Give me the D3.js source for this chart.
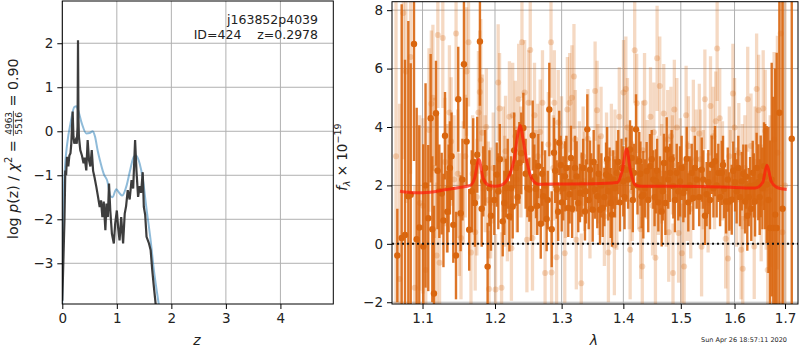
<!DOCTYPE html>
<html lang="en">
<head>
<meta charset="UTF-8">
<title>redshift fit</title>
<script src="https://cdn.jsdelivr.net/npm/d3@7"></script>
<style>
body { margin: 0; background: #fff; }
svg text { font-family: "DejaVu Sans", sans-serif; }
</style>
</head>
<body>
<div id="output"></div>
<script>

// p(z) panel
var zTicks = [0, 1, 2, 3, 4];
var logpTicks = [-3, -2, -1, 0, 1, 2];
// [z, log p(z)] of the fit (dark) and the smoothed prior/template curve (blue)
var pzFit = [[0.0,-3.85],[0.02,-2.93],[0.04,-2.0],[0.055,-0.89],[0.07,-1.0],[0.086,-0.58],[0.11,-0.8],[0.13,-0.55],
  [0.15,-0.5],[0.165,-0.28],[0.19,0.45],[0.205,-0.13],[0.22,-0.28],[0.245,-0.2],[0.265,-0.28],[0.28,0.1],[0.288,2.07],
  [0.296,0.3],[0.305,-0.13],[0.33,-0.43],[0.36,-0.55],[0.39,-0.73],[0.41,-0.6],[0.44,-0.89],[0.465,-0.2],[0.49,-0.66],
  [0.515,-0.8],[0.54,-0.43],[0.565,-0.9],[0.59,-1.04],[0.625,-1.27],[0.65,-1.45],[0.686,-1.72],[0.71,-1.57],[0.735,-1.95],
  [0.76,-1.6],[0.79,-2.25],[0.81,-1.64],[0.835,-1.95],[0.857,-1.19],[0.88,-1.8],[0.91,-2.33],[0.945,-2.55],[0.97,-2.1],
  [1.0,-1.8],[1.025,-2.2],[1.05,-2.48],[1.08,-1.95],[1.115,-2.55],[1.145,-1.87],[1.17,-1.7],[1.2,-1.34],[1.235,-1.55],
  [1.27,-1.11],[1.3,-1.3],[1.335,-0.2],[1.36,-0.89],[1.39,-1.49],[1.42,-1.25],[1.445,-1.4],[1.475,-0.93],[1.495,-1.72],
  [1.52,-1.9],[1.545,-2.4],[1.59,-2.55],[1.62,-2.7],[1.65,-3.16],[1.68,-3.54],[1.71,-3.9],[1.74,-4.3]];
var pzPrior = [[0.0,-3.93],[0.01,-2.6],[0.02,-1.57],[0.05,-0.8],[0.09,-0.28],[0.15,0.18],[0.22,0.55],[0.26,0.57],
  [0.29,0.48],[0.36,0.17],[0.44,-0.05],[0.5,-0.04],[0.56,0.0],[0.6,-0.12],[0.65,-0.45],[0.69,-0.66],[0.76,-0.97],
  [0.83,-1.15],[0.88,-1.47],[0.92,-1.5],[0.99,-1.32],[1.05,-1.41],[1.1,-1.46],[1.18,-1.23],[1.25,-0.85],[1.31,-0.58],
  [1.35,-0.55],[1.42,-0.74],[1.48,-1.11],[1.54,-1.72],[1.62,-2.48],[1.68,-3.16],[1.74,-3.69],[1.79,-4.1]];

// spectrum panel
var waveTicks = [1.1, 1.2, 1.3, 1.4, 1.5, 1.6, 1.7];
var fluxTicks = [-2, 0, 2, 4, 6, 8];
// [wavelength, flux, error]  binned spectrum
var binned = [[1.0672,-0.4,1.6],[1.0728,0.2,8],[1.0771,0.3,6],[1.0814,1.63,6],[1.0845,1.68,4.5],[1.0888,6.84,4],
  [1.0923,0.16,4.5],[1.0957,0.56,3.5],[1.1010,-0.09,3.5],[1.1076,0.88,2.5],[1.1108,4.3,2.2],[1.1152,-1.7,3],
  [1.1179,4.47,1.8],[1.1224,1.8,1.6],[1.1256,1.72,1.4],[1.1301,3.7,1.5],[1.1332,1.1,1.4],[1.1368,2.6,1.6],
  [1.1414,0.65,1.3],[1.1451,-0.4,1.5],[1.1482,4.95,1.8],[1.1515,1.05,1.3],[1.1561,6.15,2.2],[1.1598,3.5,1.5],
  [1.1634,0.48,1.4],[1.1714,1.4,1.5],[1.1747,3.05,1.3],[1.1785,6.93,2.2],[1.1832,2.14,1.2],[1.1894,-0.78,1.5],
  [1.1942,0.96,1.2],[1.2025,2.37,1.1],[1.2048,1.80,1.3],[1.2112,0.77,1.2],[1.2160,1.91,1.0],[1.2209,0.94,1.2],
  [1.2258,1.28,1.1],[1.2307,2.60,1.3],[1.2356,2.77,1.4],[1.2416,3.97,1.2],[1.2476,1.91,1.0],[1.2506,1.86,1.1],
  [1.2556,3.71,1.2],[1.2606,1.88,1.0],[1.2641,2.66,1.1],[1.2678,0.69,1.2],[1.2717,1.63,1.0],[1.2768,0.85,1.1],
  [1.2809,4.6,1.6],[1.2846,0.50,1.3],[1.2881,3.12,1.2],[1.2923,1.86,1.0],[1.2963,3.46,1.1],[1.3001,1.42,1.0],
  [1.3052,2.31,1.2],[1.3104,1.23,1.0],[1.3146,2.94,1.1],[1.3183,1.97,0.9],[1.3237,2.31,1.2],[1.3289,1.74,1.0],
  [1.3317,2.03,1.1],[1.3369,1.11,1.0],[1.3407,3.92,1.2],[1.3451,2.54,1.0],[1.3494,1.17,1.1],[1.3532,1.86,1.0],
  [1.3569,1.63,1.1],[1.3613,1.17,1.2],[1.3657,1.23,1.0],[1.3712,2.37,1.1],[1.3749,1.80,1.0],[1.3789,1.40,1.2],
  [1.3832,2.20,1.0],[1.3889,2.43,1.1],[1.3944,1.42,1.0],[1.3999,2.14,1.2],[1.4045,2.54,1.1],[1.4113,3.23,1.0],
  [1.4141,2.94,1.1],[1.4181,2.43,1.0],[1.4215,3.92,1.2],[1.4270,2.83,1.0],[1.4311,1.63,1.1],[1.4340,1.68,1.5],
  [1.4397,2.49,1.0],[1.4455,2.66,1.1],[1.4513,2.20,1.0],[1.4560,2.14,1.1],[1.4601,1.42,1.0],[1.4660,1.11,1.2],
  [1.4701,2.77,1.0],[1.4748,3.23,1.1],[1.4807,2.43,1.0],[1.4866,1.97,1.1],[1.4927,2.43,1.0],[1.4986,2.14,1.2],
  [1.5046,1.74,1.0],[1.5107,2.91,1.1],[1.5136,1.42,1.0],[1.5198,2.43,1.0],[1.5227,1.57,1.1],[1.5290,2.20,1.0],
  [1.5382,2.54,1.1],[1.5442,0.96,1.0],[1.5504,2.11,1.1],[1.5567,2.71,1.0],[1.5629,2.83,1.2],[1.5691,2.43,1.0],
  [1.5756,2.43,1.1],[1.5800,1.88,1.0],[1.5838,1.45,1.1],[1.5900,1.45,1.0],[1.5946,1.51,1.2],[1.6010,2.11,1.0],
  [1.6073,2.60,1.1],[1.6139,2.14,1.0],[1.6203,1.45,1.1],[1.6247,0.96,1.2],[1.6301,1.97,1.0],[1.6353,2.43,1.1],
  [1.6399,1.45,1.2],[1.6463,2.11,1.3],[1.6511,2.31,1.4],[1.6577,2.66,1.5],[1.6630,2.03,2.0],[1.6697,0.54,3.0],
  [1.6762,0.54,4.5],[1.6831,0.54,6],[1.6885,4.49,7],[1.6950,1.2,9],[1.7138,3.60,12],
  [1.1040,2.0,3.5],[1.1130,0.5,2.5],[1.1200,2.5,2.0],[1.1280,0.8,1.6],[1.1350,1.9,1.5],[1.1390,3.0,1.5],
  [1.1540,2.2,1.4],[1.1670,1.8,1.4],[1.1690,2.8,1.5],[1.1810,1.2,1.3],[1.1860,2.6,1.3],[1.1920,1.9,1.3],
  [1.1990,1.5,1.2],[1.2070,2.9,1.2],[1.2135,1.4,1.1],[1.2185,2.4,1.2],[1.2235,1.9,1.1],[1.2280,3.2,1.3],
  [1.2330,1.6,1.2],[1.2385,3.1,1.4],[1.2450,2.4,1.2],[1.2530,1.2,1.1],[1.2580,2.3,1.1],[1.2625,1.3,1.0],
  [1.2700,2.4,1.1],[1.2745,2.0,1.2],[1.2785,1.5,1.0],[1.2900,2.5,1.1],[1.2945,1.1,1.0],[1.2985,2.7,1.0],
  [1.3025,1.9,1.1],[1.3075,2.6,1.1],[1.3125,1.7,1.0],[1.3165,1.2,1.0],[1.3210,2.6,1.1],[1.3262,1.4,1.0],
  [1.3340,2.6,1.0],[1.3385,1.8,1.1],[1.3430,1.5,1.0],[1.3470,2.1,1.0],[1.3510,2.8,1.1],[1.3590,2.4,1.0],
  [1.3635,2.0,1.1],[1.3685,1.6,1.0],[1.3730,2.9,1.1],[1.3770,2.3,1.0],[1.3810,1.0,1.1],[1.3860,1.9,1.0],
  [1.3915,2.8,1.1],[1.3970,2.6,1.0],[1.4020,1.6,1.1],[1.4080,2.2,1.0],[1.4160,1.5,1.1],[1.4240,2.0,1.0],
  [1.4290,2.4,1.1],[1.4370,1.9,1.0],[1.4425,1.5,1.1],[1.4485,2.9,1.0],[1.4535,1.6,1.0],[1.4580,2.5,1.1],
  [1.4630,2.0,1.0],[1.4680,1.8,1.0],[1.4725,1.4,1.1],[1.4775,2.2,1.0],[1.4835,2.9,1.0],[1.4895,1.5,1.1],
  [1.4955,1.8,1.0],[1.5015,2.6,1.1],[1.5075,1.9,1.0],[1.5165,2.0,1.0],[1.5255,2.6,1.1],[1.5335,1.6,1.0],
  [1.5410,2.2,1.0],[1.5472,1.7,1.1],[1.5535,1.5,1.0],[1.5600,1.9,1.0],[1.5660,2.0,1.1],[1.5725,1.6,1.0],
  [1.5780,2.7,1.0],[1.5870,2.2,1.1],[1.5975,2.5,1.0],[1.6040,1.8,1.1],[1.6105,1.6,1.0],[1.6170,2.4,1.0],
  [1.6225,2.3,1.1],[1.6275,1.6,1.0],[1.6325,1.2,1.1],[1.6375,2.0,1.1],[1.6430,2.6,1.2],[1.6490,1.6,1.3],
  [1.6545,1.9,1.4],[1.6600,2.3,1.8],[1.6665,1.5,2.5],[1.6730,2.2,4],[1.6800,1.0,5]];
// [wavelength, flux, error]  full-resolution spectrum (faint)
var spectrum = [[1.0655,3.0,6],[1.0700,-1.2,6],[1.0749,7.9,5],[1.0783,5.9,4.5],[1.0843,6.4,4],[1.0898,-1.5,3.5],
  [1.0964,1.4,3],[1.1007,1.3,3],[1.1043,-0.9,2.8],[1.1086,3.9,2.8],[1.1117,4.8,2.5],[1.1138,5.0,2.5],[1.1188,-0.4,2.5],
  [1.1204,7.15,2.5],[1.1227,-0.65,2.4],[1.1271,7.05,2.4],[1.1300,2.8,2.2],[1.1361,4.5,2.3],[1.1384,3.5,2.2],
  [1.1425,2.2,2.2],[1.1452,7.2,2.3],[1.1474,2.4,2.2],[1.1497,1.0,2.1],[1.1520,0.2,2.1],[1.1552,2.1,2.1],[1.1597,5.9,2.2],
  [1.1625,6.9,2.2],[1.1659,-0.3,2.0],[1.1682,2.4,2.0],[1.1718,0.4,2.0],[1.1741,1.6,2.0],[1.1764,4.5,2.1],[1.1783,5.2,2.1],
  [1.1797,5.6,2.1],[1.1820,3.8,2.0],[1.1876,4.0,2.0],[1.1904,1.5,2.0],[1.1914,-1.55,2.0],[1.1938,1.4,1.9],[1.1975,2.6,1.9],
  [1.2008,-1.56,1.9],[1.2046,5.52,2.0],[1.2066,4.63,1.9],[1.2095,-1.5,1.9],[1.2120,2.9,1.8],[1.2153,3.17,1.9],
  [1.2180,1.2,1.8],[1.2210,4.35,1.9],[1.2239,-0.15,1.8],[1.2258,4.4,1.8],[1.2297,3.68,1.9],[1.2320,2.2,1.8],
  [1.2346,4.95,1.9],[1.2395,6.9,1.9],[1.2435,5.18,1.8],[1.2469,0.14,1.8],[1.2493,4.83,1.8],[1.2519,6.64,1.9],
  [1.2553,0.2,1.8],[1.2583,4.4,1.8],[1.2633,3.0,1.8],[1.2669,3.83,1.8],[1.2704,4.83,1.8],[1.2744,-1.0,1.8],
  [1.2794,3.4,1.8],[1.2835,6.9,1.9],[1.2844,-0.98,1.8],[1.2886,4.83,1.8],[1.2921,-0.46,1.7],[1.2947,4.15,1.8],
  [1.2998,3.35,1.7],[1.3049,-0.32,1.7],[1.3090,4.6,1.8],[1.3126,4.83,1.7],[1.3162,5.0,1.8],[1.3194,5.73,1.8],
  [1.3215,3.57,1.7],[1.3231,0.14,1.7],[1.3280,2.5,1.7],[1.3310,-1.35,1.7],[1.3363,2.14,1.7],[1.3416,3.6,1.7],
  [1.3450,1.2,1.7],[1.3533,5.23,1.7],[1.3565,4.57,1.7],[1.3600,2.0,1.7],[1.3630,3.68,1.7],[1.3685,0.94,1.7],
  [1.3720,2.8,1.7],[1.3751,-0.3,1.7],[1.3800,3.1,1.7],[1.3850,-0.06,1.7],[1.3890,1.5,1.7],[1.3932,4.35,1.7],
  [1.4003,5.18,1.8],[1.4042,5.3,1.8],[1.4069,3.98,1.7],[1.4115,-0.2,1.7],[1.4150,1.8,1.7],[1.4192,6.63,1.8],
  [1.4226,4.81,1.7],[1.4260,2.2,1.7],[1.4294,0.5,1.7],[1.4322,-0.78,1.7],[1.4361,4.83,1.7],[1.4407,2.54,1.7],
  [1.4464,4.35,1.7],[1.4500,1.3,1.7],[1.4522,3.82,1.7],[1.4550,-0.48,1.7],[1.4579,6.35,1.8],[1.4626,5.4,1.7],
  [1.4660,2.4,1.7],[1.4696,4.46,1.7],[1.4740,1.6,1.7],[1.4766,3.57,1.7],[1.4784,0.4,1.7],[1.4824,3.68,1.7],
  [1.4860,-1.0,1.7],[1.4884,4.6,1.7],[1.4929,3.98,1.7],[1.4960,0.37,1.7],[1.4990,2.6,1.7],[1.5019,-0.32,1.7],
  [1.5060,-0.78,1.7],[1.5096,4.4,1.7],[1.5139,3.35,1.7],[1.5180,1.2,1.7],[1.5228,3.92,1.7],[1.5280,2.9,1.7],
  [1.5337,3.78,1.7],[1.5379,-0.1,1.7],[1.5410,2.2,1.7],[1.5440,4.95,1.7],[1.5500,1.4,1.7],[1.5545,4.72,1.7],
  [1.5595,3.68,1.7],[1.5643,4.2,1.7],[1.5669,6.69,1.8],[1.5718,4.3,1.7],[1.5770,2.5,1.7],[1.5830,0.17,1.7],
  [1.5875,-0.5,1.7],[1.5920,2.2,1.7],[1.5969,5.15,1.7],[1.6000,3.98,1.7],[1.6040,1.6,1.7],[1.6082,3.12,1.7],
  [1.6126,-0.2,1.7],[1.6158,-0.85,1.8],[1.6200,2.6,1.8],[1.6255,4.95,1.8],[1.6319,3.35,1.8],[1.6383,-0.09,1.8],
  [1.6430,5.3,1.9],[1.6470,4.57,1.9],[1.6520,1.4,2.0],[1.6560,4.63,2.0],[1.6600,3.86,2.1],[1.6650,-0.9,2.3],
  [1.6700,1.8,2.6],[1.6778,3.57,3.0],[1.6845,3.12,4],[1.6912,7.2,6],[1.6946,0.4,8],[1.7000,2.0,10],
  [1.1160,2.6,2.4],[1.1330,1.9,2.2],[1.1580,3.0,2.1],[1.1860,2.4,2.0],[1.2140,1.8,1.9],[1.2380,2.8,1.9],
  [1.2600,2.1,1.8],[1.2870,2.6,1.8],[1.3060,1.9,1.7],[1.3340,3.0,1.7],[1.3580,2.4,1.7],[1.3860,2.9,1.7],
  [1.4100,2.2,1.7],[1.4330,3.2,1.7],[1.4600,2.0,1.7],[1.4850,2.7,1.7],[1.5120,1.8,1.7],[1.5360,2.9,1.7],
  [1.5620,2.2,1.7],[1.5900,3.0,1.7],[1.6150,2.3,1.8],[1.6400,2.8,1.9],[1.6620,1.9,2.1]];
// [wavelength, flux]  best-fit template
var model = [[1.0706,1.80],[1.09,1.75],[1.11,1.77],[1.13,1.85],[1.15,1.93],[1.165,2.0],[1.171,2.25],[1.177,2.89],
  [1.183,2.25],[1.19,2.02],[1.20,1.97],[1.21,2.02],[1.22,2.3],[1.228,2.9],[1.233,3.7],[1.237,4.05],[1.241,3.6],
  [1.247,2.8],[1.255,2.2],[1.265,2.04],[1.30,2.05],[1.35,2.06],[1.39,2.1],[1.398,2.5],[1.4055,3.25],[1.412,2.5],
  [1.42,2.02],[1.43,1.97],[1.50,1.97],[1.60,1.93],[1.64,1.91],[1.655,2.1],[1.6635,2.69],[1.672,2.15],[1.685,1.92],
  [1.7034,1.86]];

var W = 800, H = 350;
var orange = "#d9660f";

var svg = d3.select("#output")
    .append("svg")
    .attr("width", W)
    .attr("height", H)
    .style("background-color", "#ffffff");

var xL = d3.scaleLinear().domain([0, 4.97]).range([62.3, 333.3]);
var yL = d3.scaleLinear().domain([-3.925, 2.96]).range([304, 1]);
var xR = d3.scaleLog().domain([1.0604, 1.7267]).range([392, 798]);
var yR = d3.scaleLinear().domain([-2.06, 8.29]).range([304, 1.7]);

var defs = svg.append("defs");
defs.append("clipPath").attr("id", "clipL").append("rect")
    .attr("x", 62.3).attr("y", 1).attr("width", 271).attr("height", 303);
defs.append("clipPath").attr("id", "clipR").append("rect")
    .attr("x", 392).attr("y", 1.7).attr("width", 406).attr("height", 302.3);

function grid(xs, ys, xTicks, yTicks) {
    var g = svg.append("g").attr("stroke", "#b0b0b0").attr("stroke-width", 1);
    g.selectAll(".gx").data(xTicks).join("line")
        .attr("x1", xs).attr("x2", xs)
        .attr("y1", ys.range()[0]).attr("y2", ys.range()[1]);
    g.selectAll(".gy").data(yTicks).join("line")
        .attr("y1", ys).attr("y2", ys)
        .attr("x1", xs.range()[0]).attr("x2", xs.range()[1]);
}

function axes(xs, ys, xTicks, yTicks, xfmt, yfmt) {
    var gx = svg.append("g")
        .attr("transform", "translate(0," + ys.range()[0] + ")")
        .call(d3.axisBottom(xs).tickValues(xTicks).tickFormat(xfmt).tickSize(5).tickPadding(4.5));
    var gy = svg.append("g")
        .attr("transform", "translate(" + xs.range()[0] + ",0)")
        .call(d3.axisLeft(ys).tickValues(yTicks).tickFormat(yfmt).tickSize(5).tickPadding(4));
    [gx, gy].forEach(function (g) {
        g.select(".domain").remove();
        g.attr("font-size", 13.5).attr("font-family", "DejaVu Sans");
        g.selectAll("line").attr("stroke", "#000").attr("stroke-width", 1);
        g.selectAll("text").attr("fill", "#222");
    });
    svg.append("rect")
        .attr("x", xs.range()[0]).attr("y", ys.range()[1])
        .attr("width", xs.range()[1] - xs.range()[0])
        .attr("height", ys.range()[0] - ys.range()[1])
        .attr("fill", "none").attr("stroke", "#000").attr("stroke-width", 1);
}

// ---- left: p(z)
grid(xL, yL, zTicks, logpTicks);

var lineL = d3.line().x(function (d) { return xL(d[0]); }).y(function (d) { return yL(d[1]); });
var gL = svg.append("g").attr("clip-path", "url(#clipL)");
gL.append("path").datum(pzPrior)
    .attr("d", lineL.curve(d3.curveMonotoneX))
    .attr("fill", "none").attr("stroke", "#1f77b4").attr("stroke-opacity", 0.5).attr("stroke-width", 2);
gL.append("path").datum(pzFit)
    .attr("d", lineL.curve(d3.curveLinear))
    .attr("fill", "none").attr("stroke", "#333333").attr("stroke-opacity", 0.95).attr("stroke-width", 2.2);

axes(xL, yL, zTicks, logpTicks, d3.format("d"), d3.format("d"));

svg.append("text").attr("x", 318).attr("y", 24).attr("text-anchor", "end")
    .attr("font-size", 12.5).attr("fill", "#222").text("j163852p4039");
svg.append("text").attr("x", 318).attr("y", 39).attr("text-anchor", "end")
    .attr("font-size", 12.5).attr("fill", "#222").style("white-space", "pre")
    .text("ID=424    z=0.2978");

svg.append("text").attr("x", 197).attr("y", 345).attr("text-anchor", "middle")
    .attr("font-size", 14).attr("font-style", "italic").attr("fill", "#222").text("z");

// rotated y label with a small stacked fraction
var lab = svg.append("g").attr("transform", "translate(18,239) rotate(-90)").attr("fill", "#222");
var t1 = lab.append("text").attr("font-size", 14.2).style("white-space", "pre");
t1.append("tspan").text("log ");
t1.append("tspan").attr("font-style", "italic").text("p");
t1.append("tspan").text("(z) / ");
t1.append("tspan").attr("font-style", "italic").text("\u03c7");
t1.append("tspan").attr("font-size", 10).attr("dy", -6).text("2");
t1.append("tspan").attr("dy", 6).text(" = ");
var w1 = t1.node().getComputedTextLength();
var num = lab.append("text").attr("font-size", 9).attr("text-anchor", "middle").attr("y", -6.5).text("4963");
var fw = num.node().getComputedTextLength() + 2;
num.attr("x", w1 + fw / 2);
lab.append("text").attr("font-size", 9).attr("text-anchor", "middle")
    .attr("x", w1 + fw / 2).attr("y", 3.8).text("5516");
lab.append("line").attr("x1", w1).attr("x2", w1 + fw).attr("y1", -4.6).attr("y2", -4.6)
    .attr("stroke", "#222").attr("stroke-width", 0.8);
lab.append("text").attr("font-size", 14.2).attr("x", w1 + fw).style("white-space", "pre").text(" = 0.90");

// ---- right: spectrum
grid(xR, yR, waveTicks, fluxTicks);

var gR = svg.append("g").attr("clip-path", "url(#clipR)");

gR.append("g").selectAll("line").data(spectrum).join("line")
    .attr("x1", function (d) { return xR(d[0]); }).attr("x2", function (d) { return xR(d[0]); })
    .attr("y1", function (d) { return yR(d[1] - d[2]); }).attr("y2", function (d) { return yR(d[1] + d[2]); })
    .attr("stroke", orange).attr("stroke-opacity", 0.25).attr("stroke-width", 3.3);
gR.append("g").selectAll("circle").data(spectrum).join("circle")
    .attr("cx", function (d) { return xR(d[0]); }).attr("cy", function (d) { return yR(d[1]); })
    .attr("r", 3).attr("fill", orange).attr("fill-opacity", 0.25);

gR.append("g").selectAll("line").data(binned).join("line")
    .attr("x1", function (d) { return xR(d[0]); }).attr("x2", function (d) { return xR(d[0]); })
    .attr("y1", function (d) { return yR(d[1] - d[2]); }).attr("y2", function (d) { return yR(d[1] + d[2]); })
    .attr("stroke", orange).attr("stroke-opacity", 0.9).attr("stroke-width", 2.4);
gR.append("g").selectAll("circle").data(binned).join("circle")
    .attr("cx", function (d) { return xR(d[0]); }).attr("cy", function (d) { return yR(d[1]); })
    .attr("r", 3.2).attr("fill", orange);

gR.append("path").datum(model)
    .attr("d", d3.line().x(function (d) { return xR(d[0]); }).y(function (d) { return yR(d[1]); }).curve(d3.curveMonotoneX))
    .attr("fill", "none").attr("stroke", "#ff1a0a").attr("stroke-opacity", 0.7).attr("stroke-width", 3);

gR.append("line").datum(0)
    .attr("x1", 392).attr("x2", 798)
    .attr("y1", yR).attr("y2", yR)
    .attr("stroke", "#111").attr("stroke-width", 2).attr("stroke-dasharray", "2,3");

axes(xR, yR, waveTicks, fluxTicks, d3.format(".1f"), d3.format("d"));

svg.append("text").attr("x", 594).attr("y", 345).attr("text-anchor", "middle")
    .attr("font-size", 14).attr("font-style", "italic").attr("fill", "#222").text("\u03bb");

var lab2 = svg.append("g").attr("transform", "translate(347,191) rotate(-90)").attr("fill", "#222");
var t2 = lab2.append("text").attr("font-size", 13.5);
t2.append("tspan").attr("font-style", "italic").text("f");
t2.append("tspan").attr("font-style", "italic").attr("font-size", 9.5).attr("dy", 3).text("\u03bb");
t2.append("tspan").attr("dy", -3).text(" \u00d7 10");
t2.append("tspan").attr("font-size", 9.5).attr("dy", -6).text("\u221219");

svg.append("text").attr("x", 787).attr("y", 342).attr("text-anchor", "end")
    .attr("font-size", 6.5).attr("fill", "#222").text("Sun Apr 26 18:57:11 2020");

</script>
</body>
</html>
